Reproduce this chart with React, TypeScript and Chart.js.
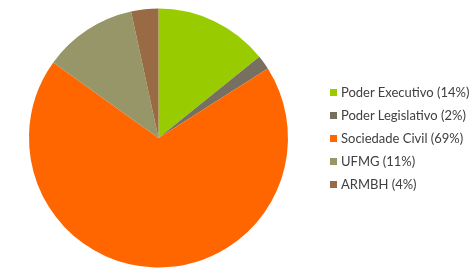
import React, { useEffect, useRef } from "react";
import { Chart, registerables } from "chart.js";

Chart.register(...registerables);

const categories = ["Poder Executivo", "Poder Legislativo", "Sociedade Civil", "UFMG", "ARMBH"];
const legendLabels = ["Poder Executivo (14%)", "Poder Legislativo (2%)", "Sociedade Civil (69%)", "UFMG (11%)", "ARMBH (4%)"];
const values = [14.2, 1.8, 68.9, 11.7, 3.4];
const colors = ["#99CC00", "#776F5F", "#FF6600", "#969668", "#996B45"];

export default function App() {
  const ref = useRef<HTMLCanvasElement>(null);
  useEffect(() => {
    if (!ref.current) return;
    const chart = new Chart(ref.current, {
      type: "pie",
      data: {
        labels: categories,
        datasets: [{ data: values, backgroundColor: colors, borderWidth: 0 }],
      },
      options: {
        responsive: false,
        animation: false,
        layout: { padding: { left: 29, right: 184, top: 8.5, bottom: 12.5 } },
        plugins: { legend: { display: false }, tooltip: { enabled: false } },
      },
    });
    return () => chart.destroy();
  }, []);
  return (
    <div style={{ position: "fixed", left: 0, top: 0, width: 472, height: 280, background: "#fff" }}>
      <canvas ref={ref} width={472} height={280} style={{ position: "absolute", left: 0, top: 0 }} />
      {legendLabels.map((l, i) => (
        <div
          key={l}
          style={{
            position: "absolute",
            left: 330,
            top: 92 + i * 23 - 8,
            height: 16,
            display: "flex",
            alignItems: "center",
            fontFamily: "Lato, 'Open Sans', sans-serif",
            fontSize: 13,
            color: "#404040",
            whiteSpace: "nowrap",
          }}
        >
          <span style={{ display: "inline-block", width: 7, height: 7, background: colors[i], marginRight: 4 }} />
          {l}
        </div>
      ))}
    </div>
  );
}
